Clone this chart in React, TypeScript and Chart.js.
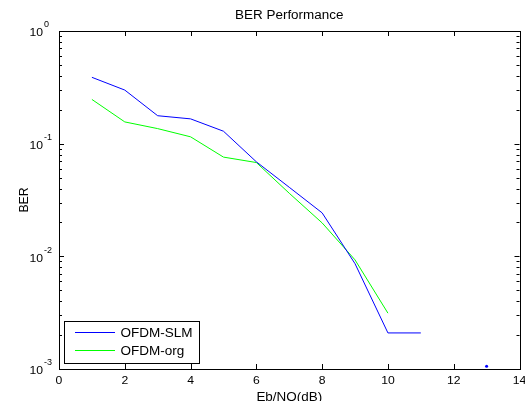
import React, { useEffect, useRef } from "react";
import { Chart, registerables } from "chart.js";

Chart.register(...registerables);

const xSLM = [1, 2, 3, 4, 5, 6, 7, 8, 9, 10, 11];
const berSLM = [0.388, 0.299, 0.177, 0.166, 0.129, 0.069, 0.041, 0.0243, 0.0086, 0.00209, 0.00209];
const xOrg = [1, 2, 3, 4, 5, 6, 7, 8, 9, 10];
const berOrg = [0.247, 0.156, 0.136, 0.115, 0.076, 0.068, 0.0363, 0.0198, 0.0093, 0.00313];
const xDot = [13];
const berDot = [0.00106];

const xTicks = [0, 2, 4, 6, 8, 10, 12, 14];
const yExponents = [-3, -2, -1, 0];
const seriesNames = ["OFDM-SLM", "OFDM-org"];
const seriesColors = ["#0000ff", "#00ff00"];
const titleText = "BER Performance";
const xLabel = "Eb/NO(dB)";
const yLabel = "BER";

const FONT = "Liberation Sans, Arial, sans-serif";

function drawText(
  ctx: CanvasRenderingContext2D,
  text: string,
  x: number,
  y: number,
  size: number,
  sx: number,
  align: CanvasTextAlign
) {
  ctx.save();
  ctx.font = `${size}px ${FONT}`;
  ctx.textAlign = align;
  ctx.textBaseline = "middle";
  ctx.translate(x, y);
  ctx.scale(sx, 1);
  ctx.fillText(text, 0, 0);
  ctx.restore();
}

const framePlugin = {
  id: "matlabFrame",
  afterDraw(chart: any) {
    const ctx = chart.ctx as CanvasRenderingContext2D;
    const { left, right, top, bottom } = chart.chartArea;
    const xs = chart.scales.x;
    const ys = chart.scales.y;
    ctx.save();
    ctx.strokeStyle = "#000";
    ctx.fillStyle = "#000";
    ctx.lineWidth = 1;
    ctx.strokeRect(Math.round(left) + 0.5, Math.round(top) + 0.5, Math.round(right - left), Math.round(bottom - top));

    // x ticks
    ctx.beginPath();
    for (const v of xTicks) {
      const px = Math.round(xs.getPixelForValue(v)) + 0.5;
      ctx.moveTo(px, bottom);
      ctx.lineTo(px, bottom - 5);
      ctx.moveTo(px, top);
      ctx.lineTo(px, top + 5);
    }
    ctx.stroke();
    for (const v of xTicks) {
      const px = xs.getPixelForValue(v);
      drawText(ctx, String(v), px, bottom + 12, 11.5, 1.06, "center");
    }

    // y ticks
    ctx.beginPath();
    for (const e of yExponents) {
      const py = Math.round(ys.getPixelForValue(Math.pow(10, e))) + 0.5;
      ctx.moveTo(left, py);
      ctx.lineTo(left + 5, py);
      ctx.moveTo(right, py);
      ctx.lineTo(right - 5, py);
      if (e < 0) {
        for (let m = 2; m <= 9; m++) {
          const pm = Math.round(ys.getPixelForValue(m * Math.pow(10, e))) + 0.5;
          ctx.moveTo(left, pm);
          ctx.lineTo(left + 3, pm);
          ctx.moveTo(right, pm);
          ctx.lineTo(right - 3, pm);
        }
      }
    }
    ctx.stroke();
    for (const e of yExponents) {
      const py = ys.getPixelForValue(Math.pow(10, e));
      drawText(ctx, "10", 43, py + 2, 11.5, 1.06, "right");
      drawText(ctx, String(e), 44, py - 6, 8.5, 1.06, "left");
    }

    // title & axis labels
    drawText(ctx, titleText, (left + right) / 2, 16, 12, 1.12, "center");
    drawText(ctx, xLabel, (left + right) / 2, 398, 12, 1.12, "center");
    ctx.save();
    ctx.translate(25, (top + bottom) / 2);
    ctx.rotate(-Math.PI / 2);
    drawText(ctx, yLabel, 0, 0, 12, 1.02, "center");
    ctx.restore();

    // legend
    const lx = 64.5, ly = 321.5, lw = 135, lh = 42;
    ctx.fillStyle = "#fff";
    ctx.fillRect(lx, ly, lw, lh);
    ctx.strokeStyle = "#000";
    ctx.strokeRect(lx, ly, lw, lh);
    seriesNames.forEach((name, i) => {
      const yy = ly + 10.5 + i * 18;
      ctx.strokeStyle = seriesColors[i];
      ctx.beginPath();
      ctx.moveTo(75, Math.round(yy) + 0.5);
      ctx.lineTo(115, Math.round(yy) + 0.5);
      ctx.stroke();
      ctx.fillStyle = "#000";
      drawText(ctx, name, 120.5, yy + 1.5, 13, 1.04, "left");
    });
    ctx.restore();
  },
};

export default function App() {
  const ref = useRef<HTMLCanvasElement | null>(null);
  useEffect(() => {
    document.body.style.margin = "0";
    const canvas = ref.current!;
    const chart = new Chart(canvas, {
      type: "line",
      data: {
        datasets: [
          {
            label: seriesNames[0],
            data: xSLM.map((x, i) => ({ x, y: berSLM[i] })),
            borderColor: seriesColors[0],
            borderWidth: 1,
            pointRadius: 0,
            tension: 0,
          },
          {
            label: seriesNames[1],
            data: xOrg.map((x, i) => ({ x, y: berOrg[i] })),
            borderColor: seriesColors[1],
            borderWidth: 1,
            pointRadius: 0,
            tension: 0,
          },
          {
            label: "dot",
            data: xDot.map((x, i) => ({ x, y: berDot[i] })),
            showLine: false,
            pointRadius: 1.5,
            pointBorderWidth: 0,
            pointBackgroundColor: seriesColors[0],
            borderColor: seriesColors[0],
          },
        ],
      },
      options: {
        animation: false,
        responsive: false,
        layout: { padding: { left: 59, right: 5.5, top: 31, bottom: 32 } },
        plugins: { legend: { display: false }, title: { display: false }, tooltip: { enabled: false } },
        scales: {
          x: { type: "linear", min: 0, max: 14, display: false },
          y: { type: "logarithmic", min: 0.001, max: 1, display: false },
        },
      },
      plugins: [framePlugin],
    });
    return () => chart.destroy();
  }, []);
  return (
    <div style={{ width: 525, height: 401, background: "#fff" }}>
      <canvas ref={ref} width={525} height={401} style={{ display: "block" }} />
    </div>
  );
}
